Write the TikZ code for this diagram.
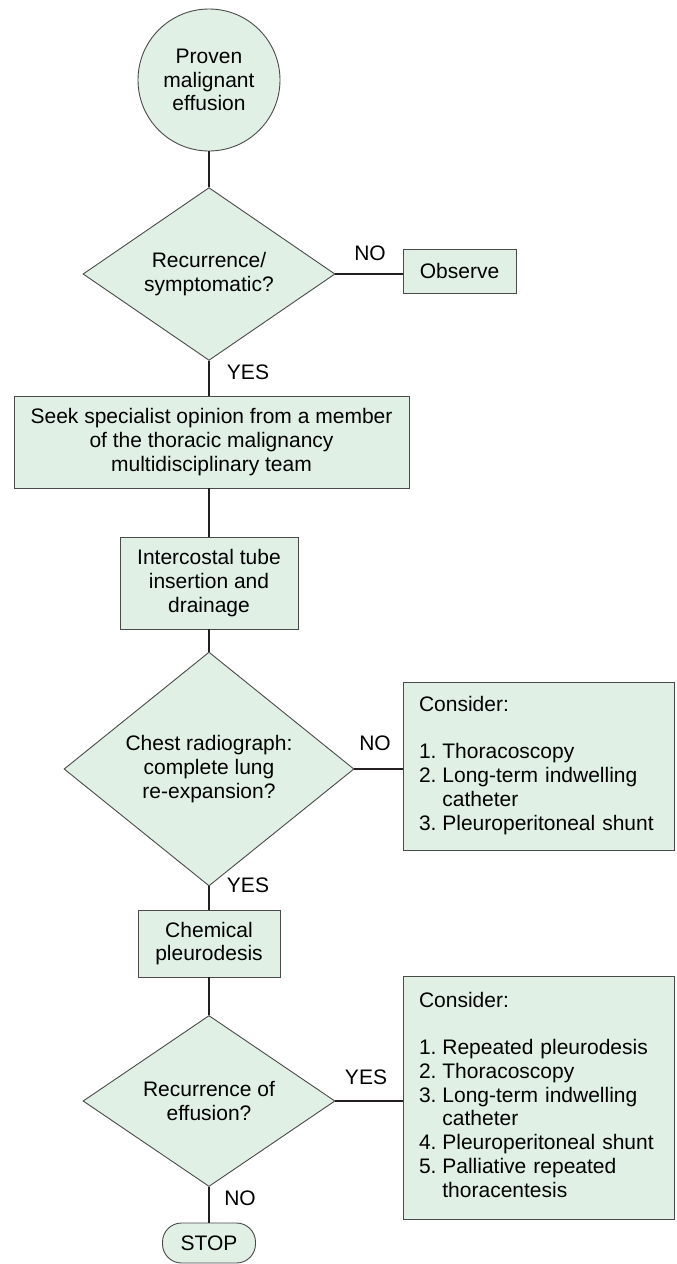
\documentclass[tikz,border=0pt]{standalone}
\usepackage{fontspec}
\setmainfont{Liberation Sans}
\usetikzlibrary{shapes.geometric}
\definecolor{boxfill}{HTML}{E0F0E5}
\definecolor{boxline}{HTML}{4A4A4A}
\definecolor{connline}{HTML}{231F20}
\tikzset{
  base/.style={draw=boxline, line width=0.9pt, fill=boxfill, font=\fontsize{21}{23.7}\selectfont, inner sep=0pt},
  procbox/.style={base, rectangle, align=center},
  decision/.style={base, diamond, align=center},
  listbox/.style={base, rectangle, inner xsep=16pt, text width=239pt, align=left},
  conn/.style={draw=connline, line width=2pt},
  lbl/.style={font=\fontsize{21}{24}\selectfont, inner sep=0pt}
}
\begin{document}
\begin{tikzpicture}[x=1pt,y=-1pt]
\useasboundingbox (0,0) rectangle (677,1264);
\node[base, circle, minimum size=142pt, align=center] (start) at (209,80) {Proven\\malignant\\effusion};
\node[decision, minimum width=252pt, minimum height=146pt] (d1) at (209,274) {Recurrence/\\symptomatic?};
\node[procbox, minimum width=113pt, minimum height=44pt] (obs) at (459.5,271) {Observe};
\node[procbox, minimum width=395pt, minimum height=92pt] (seek) at (211.5,442) {Seek specialist opinion from a member\\of the thoracic malignancy\\multidisciplinary team};
\node[procbox, minimum width=178pt, minimum height=92pt] (tube) at (209,583) {Intercostal tube\\insertion and\\drainage};
\node[decision, minimum width=290pt, minimum height=182pt] (d2) at (209,769) {Chest radiograph:\\complete lung\\re-expansion?};
\node[listbox, minimum height=168pt] (c1) at (538.5,766) {%
\begin{tabular}{@{}l@{\hspace{0.28em}}l@{}}
\multicolumn{2}{@{}l@{}}{Consider:}\\
 & \\
1. & Thoracoscopy\\
2. & Long-term indwelling\\
 & catheter\\
3. & Pleuroperitoneal shunt
\end{tabular}};
\node[procbox, minimum width=142pt, minimum height=67pt] (chem) at (209,943.5) {Chemical\\pleurodesis};
\node[decision, minimum width=252pt, minimum height=146pt] (d3) at (209,1101) {Recurrence of\\effusion?};
\node[listbox, minimum height=243pt] (c2) at (538.5,1097.5) {%
\begin{tabular}{@{}l@{\hspace{0.28em}}l@{}}
\multicolumn{2}{@{}l@{}}{Consider:}\\
 & \\
1. & Repeated pleurodesis\\
2. & Thoracoscopy\\
3. & Long-term indwelling\\
 & catheter\\
4. & Pleuroperitoneal shunt\\
5. & Palliative repeated\\
 & thoracentesis
\end{tabular}};
\node[base, rounded corners=19pt, minimum width=93pt, minimum height=40pt] (stop) at (209,1243) {STOP};
% connectors
\draw[conn] (start.south) -- (d1.north);
\draw[conn] (d1.east) -- (d1.east -| obs.west);
\draw[conn] (d1.south) -- (d1.south |- seek.north);
\draw[conn] (d1.south |- seek.south) -- (tube.north);
\draw[conn] (tube.south) -- (d2.north);
\draw[conn] (d2.east) -- (d2.east -| c1.west);
\draw[conn] (d2.south) -- (chem.north);
\draw[conn] (chem.south) -- (d3.north);
\draw[conn] (d3.east) -- (d3.east -| c2.west);
\draw[conn] (d3.south) -- (stop.north);
% labels
\node[lbl] (no1) at (370,253) {NO};
\node[lbl] (yes1) at (248,372) {YES};
\node[lbl] (no2) at (375,743) {NO};
\node[lbl] (yes2) at (248,885) {YES};
\node[lbl] (yes3) at (366,1077) {YES};
\node[lbl] (no3) at (240,1198) {NO};
\end{tikzpicture}
\end{document}
